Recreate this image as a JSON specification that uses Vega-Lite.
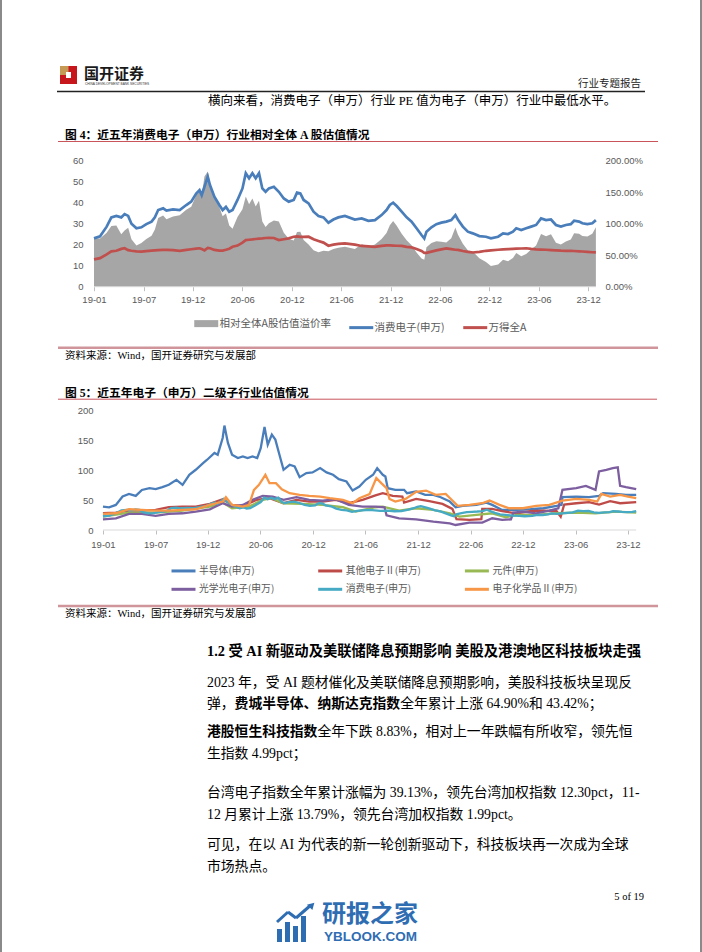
{
"$schema": "https://vega.github.io/schema/vega-lite/v6.json",
"background": "#8a8a8a",
"padding": {"left": 2, "right": 2, "top": 0, "bottom": 0},
"spacing": 0,
"bounds": "flush",
"config": {"view": {"stroke": null, "fill": "#ffffff"}},
"resolve": {"scale": {"x": "independent", "y": "independent", "color": "independent"}, "legend": {"color": "independent"}},
"datasets": {
"pe": [
{"d":"2019-01-02","c":23.0,"a":13.0,"p":76.9},{"d":"2019-01-24","c":24.0,"a":13.6,"p":76.5},{"d":"2019-02-17","c":28.6,"a":15.4,"p":85.7},{"d":"2019-03-06","c":33.0,"a":16.8,"p":96.4},{"d":"2019-03-24","c":33.7,"a":17.1,"p":97.1},{"d":"2019-04-11","c":33.0,"a":18.0,"p":83.3},{"d":"2019-04-23","c":34.6,"a":18.3,"p":89.1},{"d":"2019-05-06","c":33.7,"a":17.4,"p":93.7},{"d":"2019-05-18","c":30.0,"a":17.1,"p":75.4},{"d":"2019-06-05","c":27.8,"a":16.8,"p":65.5},{"d":"2019-06-23","c":28.3,"a":16.7,"p":69.5},{"d":"2019-07-11","c":29.8,"a":16.95,"p":75.8},{"d":"2019-07-30","c":31.0,"a":17.15,"p":80.8},{"d":"2019-08-11","c":33.0,"a":17.3,"p":90.8},{"d":"2019-08-23","c":36.5,"a":17.45,"p":109.2},{"d":"2019-09-10","c":37.3,"a":17.5,"p":113.1},{"d":"2019-09-22","c":36.2,"a":17.5,"p":106.9},{"d":"2019-10-16","c":36.8,"a":17.4,"p":111.5},{"d":"2019-11-09","c":36.5,"a":17.1,"p":113.5},{"d":"2019-12-03","c":38.9,"a":17.5,"p":122.3},{"d":"2019-12-21","c":40.5,"a":17.85,"p":126.9},{"d":"2020-01-08","c":44.4,"a":18.1,"p":145.3},{"d":"2020-01-20","c":46.0,"a":18.3,"p":151.4},{"d":"2020-01-28","c":43.6,"a":17.9,"p":143.6},{"d":"2020-02-07","c":47.6,"a":17.3,"p":175.0},{"d":"2020-02-19","c":52.4,"a":18.5,"p":183.0},{"d":"2020-02-27","c":48.4,"a":18.3,"p":164.5},{"d":"2020-03-14","c":42.9,"a":17.5,"p":145.0},{"d":"2020-04-01","c":38.9,"a":17.2,"p":126.0},{"d":"2020-04-13","c":36.5,"a":17.2,"p":112.0},{"d":"2020-04-25","c":38.0,"a":17.6,"p":116.0},{"d":"2020-05-07","c":35.7,"a":18.1,"p":97.2},{"d":"2020-05-19","c":36.5,"a":19.0,"p":92.1},{"d":"2020-06-06","c":41.3,"a":19.6,"p":110.7},{"d":"2020-06-24","c":46.8,"a":21.0,"p":122.9},{"d":"2020-07-06","c":54.0,"a":22.2,"p":143.2},{"d":"2020-07-18","c":51.6,"a":22.35,"p":130.9},{"d":"2020-07-30","c":54.0,"a":22.5,"p":140.0},{"d":"2020-08-11","c":51.6,"a":22.7,"p":127.3},{"d":"2020-08-23","c":54.0,"a":22.85,"p":136.3},{"d":"2020-09-04","c":46.8,"a":23.0,"p":103.5},{"d":"2020-09-16","c":45.2,"a":23.2,"p":94.8},{"d":"2020-09-28","c":46.8,"a":23.3,"p":100.9},{"d":"2020-10-16","c":47.6,"a":23.2,"p":105.2},{"d":"2020-11-03","c":45.2,"a":22.2,"p":103.6},{"d":"2020-11-21","c":42.0,"a":22.6,"p":85.8},{"d":"2020-12-09","c":40.5,"a":23.0,"p":76.1},{"d":"2020-12-27","c":41.3,"a":23.8,"p":73.5},{"d":"2021-01-08","c":44.8,"a":24.0,"p":86.7},{"d":"2021-01-20","c":44.4,"a":23.7,"p":87.3},{"d":"2021-02-01","c":41.3,"a":23.7,"p":74.3},{"d":"2021-02-19","c":39.7,"a":23.8,"p":66.8},{"d":"2021-03-09","c":35.7,"a":22.6,"p":58.0},{"d":"2021-03-27","c":33.7,"a":21.8,"p":54.6},{"d":"2021-04-14","c":33.0,"a":21.0,"p":57.1},{"d":"2021-05-02","c":30.5,"a":19.5,"p":56.4},{"d":"2021-05-20","c":32.0,"a":20.0,"p":60.0},{"d":"2021-06-07","c":33.0,"a":20.4,"p":61.8},{"d":"2021-07-01","c":33.7,"a":20.6,"p":63.6},{"d":"2021-08-06","c":32.0,"a":20.0,"p":60.0},{"d":"2021-08-31","c":32.5,"a":19.4,"p":67.5},{"d":"2021-09-24","c":31.4,"a":19.2,"p":63.5},{"d":"2021-10-18","c":31.7,"a":19.0,"p":66.8},{"d":"2021-11-11","c":34.1,"a":19.4,"p":75.8},{"d":"2021-11-29","c":36.5,"a":19.7,"p":85.3},{"d":"2021-12-11","c":38.9,"a":19.7,"p":97.5},{"d":"2021-12-23","c":40.0,"a":19.6,"p":104.1},{"d":"2022-01-05","c":38.4,"a":19.5,"p":96.9},{"d":"2022-01-23","c":35.7,"a":19.4,"p":84.0},{"d":"2022-02-10","c":33.0,"a":19.0,"p":73.7},{"d":"2022-02-28","c":31.0,"a":18.7,"p":65.8},{"d":"2022-03-18","c":27.8,"a":18.0,"p":54.4},{"d":"2022-04-05","c":24.6,"a":17.0,"p":44.7},{"d":"2022-04-15","c":23.0,"a":16.1,"p":42.9},{"d":"2022-04-23","c":26.2,"a":16.1,"p":62.7},{"d":"2022-05-11","c":28.3,"a":16.7,"p":69.5},{"d":"2022-05-29","c":29.8,"a":17.3,"p":72.3},{"d":"2022-06-16","c":30.5,"a":17.8,"p":71.3},{"d":"2022-07-04","c":31.0,"a":18.2,"p":70.3},{"d":"2022-07-22","c":31.7,"a":17.9,"p":77.1},{"d":"2022-08-06","c":34.1,"a":17.6,"p":93.8},{"d":"2022-08-15","c":32.0,"a":17.5,"p":82.9},{"d":"2022-09-02","c":28.6,"a":17.0,"p":68.2},{"d":"2022-09-20","c":26.2,"a":16.6,"p":57.8},{"d":"2022-10-08","c":25.4,"a":16.3,"p":55.8},{"d":"2022-11-01","c":24.1,"a":16.6,"p":45.2},{"d":"2022-11-25","c":23.8,"a":17.1,"p":39.2},{"d":"2022-12-13","c":23.0,"a":17.3,"p":32.9},{"d":"2023-01-08","c":23.8,"a":17.6,"p":35.2},{"d":"2023-01-26","c":25.4,"a":17.8,"p":42.7},{"d":"2023-02-13","c":25.1,"a":17.9,"p":40.2},{"d":"2023-03-03","c":26.2,"a":18.0,"p":45.6},{"d":"2023-03-15","c":27.8,"a":18.1,"p":53.6},{"d":"2023-04-02","c":27.0,"a":18.2,"p":48.4},{"d":"2023-04-20","c":27.8,"a":18.3,"p":51.9},{"d":"2023-05-08","c":28.6,"a":18.0,"p":58.9},{"d":"2023-05-26","c":29.4,"a":17.8,"p":65.2},{"d":"2023-06-13","c":32.5,"a":17.7,"p":83.6},{"d":"2023-07-01","c":31.7,"a":17.6,"p":80.1},{"d":"2023-07-19","c":32.0,"a":17.45,"p":83.4},{"d":"2023-08-06","c":29.4,"a":17.3,"p":69.9},{"d":"2023-08-24","c":28.6,"a":17.15,"p":66.8},{"d":"2023-09-11","c":29.4,"a":17.1,"p":71.9},{"d":"2023-09-29","c":29.8,"a":17.05,"p":74.8},{"d":"2023-10-11","c":31.4,"a":17.0,"p":84.7},{"d":"2023-10-29","c":31.0,"a":16.85,"p":84.0},{"d":"2023-11-10","c":30.2,"a":16.75,"p":80.3},{"d":"2023-11-28","c":29.8,"a":16.6,"p":79.5},{"d":"2023-12-16","c":30.2,"a":16.4,"p":84.1},{"d":"2023-12-29","c":31.7,"a":16.3,"p":94.5}
],
"s1": [
{"d":"2019-01-02","v":39.2},{"d":"2019-01-23","v":38},{"d":"2019-02-15","v":42},{"d":"2019-03-10","v":56},{"d":"2019-04-01","v":60.5},{"d":"2019-04-24","v":57},{"d":"2019-05-15","v":67},{"d":"2019-06-10","v":70},{"d":"2019-07-01","v":68.3},{"d":"2019-07-24","v":71.7},{"d":"2019-08-15","v":75.6},{"d":"2019-09-10","v":84},{"d":"2019-10-01","v":75.6},{"d":"2019-10-24","v":92.4},{"d":"2019-11-15","v":100.8},{"d":"2019-12-10","v":112},{"d":"2019-12-24","v":117.6},{"d":"2020-01-18","v":128.9},{"d":"2020-01-29","v":126},{"d":"2020-02-15","v":154},{"d":"2020-02-21","v":174.8},{"d":"2020-03-04","v":145.7},{"d":"2020-03-18","v":126},{"d":"2020-04-07","v":120.4},{"d":"2020-04-24","v":123.2},{"d":"2020-05-10","v":120.4},{"d":"2020-05-27","v":123.2},{"d":"2020-06-12","v":120.4},{"d":"2020-06-24","v":137},{"d":"2020-07-07","v":172.5},{"d":"2020-07-18","v":142.9},{"d":"2020-08-01","v":159.7},{"d":"2020-08-13","v":151.3},{"d":"2020-08-27","v":126},{"d":"2020-09-10","v":100.8},{"d":"2020-10-01","v":109.2},{"d":"2020-10-18","v":106.4},{"d":"2020-11-04","v":88.5},{"d":"2020-11-27","v":95.2},{"d":"2020-12-18","v":96.4},{"d":"2021-01-13","v":103.6},{"d":"2021-02-04","v":96.4},{"d":"2021-02-26","v":92.4},{"d":"2021-03-18","v":85.2},{"d":"2021-04-13","v":81.2},{"d":"2021-05-04","v":66},{"d":"2021-05-27","v":72.8},{"d":"2021-06-18","v":84},{"d":"2021-07-13","v":92.4},{"d":"2021-07-27","v":103.6},{"d":"2021-08-15","v":92.4},{"d":"2021-08-24","v":89.6},{"d":"2021-09-01","v":70},{"d":"2021-09-27","v":67.2},{"d":"2021-10-27","v":67.2},{"d":"2021-11-06","v":61.6},{"d":"2021-12-07","v":64.4},{"d":"2022-01-07","v":58.8},{"d":"2022-02-04","v":58.8},{"d":"2022-03-01","v":54.9},{"d":"2022-04-01","v":47.6},{"d":"2022-04-21","v":38.1},{"d":"2022-05-15","v":40.3},{"d":"2022-07-01","v":42},{"d":"2022-08-04","v":45.9},{"d":"2022-08-24","v":42},{"d":"2022-09-27","v":33.6},{"d":"2022-11-15","v":33.6},{"d":"2023-01-02","v":34.7},{"d":"2023-02-15","v":36.4},{"d":"2023-04-01","v":40.3},{"d":"2023-04-18","v":42},{"d":"2023-04-21","v":54.9},{"d":"2023-06-07","v":56},{"d":"2023-07-21","v":54.9},{"d":"2023-08-24","v":57.1},{"d":"2023-09-07","v":61.6},{"d":"2023-10-21","v":60.5},{"d":"2023-11-24","v":58.8},{"d":"2023-12-29","v":58.8}
],
"s2": [
{"d":"2019-01-02","v":28},{"d":"2019-02-15","v":29.1},{"d":"2019-04-01","v":32.5},{"d":"2019-05-15","v":32.5},{"d":"2019-07-01","v":33.6},{"d":"2019-08-15","v":38.1},{"d":"2019-10-01","v":39.2},{"d":"2019-11-15","v":39.2},{"d":"2020-01-02","v":43.7},{"d":"2020-02-15","v":51.5},{"d":"2020-03-18","v":42},{"d":"2020-04-24","v":40.3},{"d":"2020-06-10","v":50.4},{"d":"2020-07-24","v":53.2},{"d":"2020-09-10","v":44.8},{"d":"2020-10-24","v":50.4},{"d":"2020-12-07","v":47.6},{"d":"2021-01-22","v":47.6},{"d":"2021-03-07","v":50.4},{"d":"2021-04-21","v":44.8},{"d":"2021-06-07","v":50.4},{"d":"2021-07-21","v":58},{"d":"2021-08-15","v":61.6},{"d":"2021-09-18","v":57.1},{"d":"2021-10-21","v":56},{"d":"2021-10-27","v":46},{"d":"2021-12-07","v":52.1},{"d":"2022-01-21","v":48.2},{"d":"2022-03-07","v":43.7},{"d":"2022-04-10","v":35.3},{"d":"2022-04-24","v":18},{"d":"2022-06-07","v":16.8},{"d":"2022-07-18","v":18},{"d":"2022-07-21","v":35.3},{"d":"2022-08-24","v":35.3},{"d":"2022-09-27","v":31.4},{"d":"2022-11-15","v":28},{"d":"2023-01-02","v":31.4},{"d":"2023-02-15","v":32.5},{"d":"2023-04-01","v":31.4},{"d":"2023-04-15","v":22.4},{"d":"2023-04-27","v":42.6},{"d":"2023-06-07","v":44.8},{"d":"2023-07-21","v":46.5},{"d":"2023-08-24","v":42.6},{"d":"2023-10-01","v":48.2},{"d":"2023-11-04","v":44.8},{"d":"2023-12-29","v":46.5}
],
"s3": [
{"d":"2019-01-02","v":22.4},{"d":"2019-04-01","v":29.1},{"d":"2019-07-01","v":29.1},{"d":"2019-10-01","v":32.5},{"d":"2020-01-02","v":39.2},{"d":"2020-02-15","v":45.9},{"d":"2020-03-18","v":36.4},{"d":"2020-05-15","v":39.2},{"d":"2020-07-01","v":50.4},{"d":"2020-08-01","v":53.2},{"d":"2020-09-10","v":44.8},{"d":"2020-11-15","v":43.7},{"d":"2021-01-22","v":42},{"d":"2021-04-01","v":38.1},{"d":"2021-05-15","v":30.8},{"d":"2021-07-21","v":38.1},{"d":"2021-08-15","v":39.2},{"d":"2021-10-10","v":32.5},{"d":"2021-12-07","v":36.4},{"d":"2022-02-04","v":33.6},{"d":"2022-04-01","v":28},{"d":"2022-05-04","v":22.4},{"d":"2022-07-01","v":25.2},{"d":"2022-08-24","v":28},{"d":"2022-10-10","v":21.3},{"d":"2022-11-15","v":25.2},{"d":"2023-01-21","v":25.2},{"d":"2023-04-01","v":28},{"d":"2023-06-07","v":29.1},{"d":"2023-08-12","v":28},{"d":"2023-10-21","v":30.8},{"d":"2023-12-29","v":29.1}
],
"s4": [
{"d":"2019-01-02","v":17.9},{"d":"2019-02-15","v":19.6},{"d":"2019-04-01","v":26.9},{"d":"2019-05-15","v":26.9},{"d":"2019-07-01","v":23.5},{"d":"2019-08-15","v":26.9},{"d":"2019-10-01","v":28},{"d":"2019-11-15","v":30.8},{"d":"2020-01-02","v":34.7},{"d":"2020-02-15","v":44.8},{"d":"2020-03-18","v":39.2},{"d":"2020-04-24","v":42},{"d":"2020-05-27","v":50.4},{"d":"2020-07-01","v":57.1},{"d":"2020-08-04","v":56},{"d":"2020-09-10","v":50.4},{"d":"2020-10-24","v":54.9},{"d":"2020-12-07","v":50.4},{"d":"2021-01-22","v":49.3},{"d":"2021-03-07","v":51.5},{"d":"2021-04-21","v":42},{"d":"2021-06-07","v":39.2},{"d":"2021-07-21","v":39.2},{"d":"2021-08-21","v":38},{"d":"2021-08-28","v":24.5},{"d":"2021-10-10","v":19.6},{"d":"2021-12-07","v":17.9},{"d":"2022-02-04","v":14},{"d":"2022-04-01","v":11.2},{"d":"2022-04-21","v":8.4},{"d":"2022-06-07","v":12.3},{"d":"2022-07-21","v":12.3},{"d":"2022-08-24","v":19.6},{"d":"2022-09-27","v":16.8},{"d":"2022-10-27","v":17.9},{"d":"2022-11-04","v":29.1},{"d":"2022-12-07","v":30.8},{"d":"2023-01-21","v":28},{"d":"2023-03-07","v":32.5},{"d":"2023-04-07","v":36.4},{"d":"2023-04-21","v":67.2},{"d":"2023-06-07","v":70},{"d":"2023-07-10","v":73.9},{"d":"2023-08-12","v":67.2},{"d":"2023-08-24","v":98},{"d":"2023-09-18","v":100.8},{"d":"2023-10-10","v":103.6},{"d":"2023-10-27","v":105},{"d":"2023-11-04","v":73.9},{"d":"2023-11-24","v":71.7},{"d":"2023-12-29","v":68.3}
],
"s6": [
{"d":"2019-01-02","v":26.9},{"d":"2019-02-15","v":28},{"d":"2019-04-01","v":34.7},{"d":"2019-05-15","v":33.6},{"d":"2019-07-01","v":32.5},{"d":"2019-08-15","v":32.5},{"d":"2019-10-01","v":33.6},{"d":"2019-11-15","v":34.7},{"d":"2020-01-02","v":42},{"d":"2020-02-15","v":47.6},{"d":"2020-02-26","v":54.9},{"d":"2020-03-18","v":42},{"d":"2020-04-24","v":39.2},{"d":"2020-05-15","v":42},{"d":"2020-06-01","v":67.2},{"d":"2020-06-18","v":75.6},{"d":"2020-07-10","v":92.4},{"d":"2020-07-24","v":78.4},{"d":"2020-08-15","v":78.4},{"d":"2020-09-04","v":68.3},{"d":"2020-10-01","v":61.6},{"d":"2020-11-04","v":58.8},{"d":"2020-12-07","v":57.1},{"d":"2021-01-13","v":56},{"d":"2021-02-15","v":53.2},{"d":"2021-04-01","v":50.4},{"d":"2021-05-04","v":44.8},{"d":"2021-05-27","v":53.2},{"d":"2021-07-01","v":60},{"d":"2021-07-24","v":86.8},{"d":"2021-08-10","v":78.4},{"d":"2021-08-28","v":70},{"d":"2021-09-07","v":52},{"d":"2021-09-27","v":47.6},{"d":"2021-11-01","v":52.1},{"d":"2021-12-07","v":64},{"d":"2022-01-10","v":66},{"d":"2022-02-12","v":58.8},{"d":"2022-03-18","v":60.5},{"d":"2022-04-10","v":49.3},{"d":"2022-04-28","v":40.3},{"d":"2022-06-07","v":42},{"d":"2022-07-21","v":44.8},{"d":"2022-08-15","v":49.3},{"d":"2022-09-18","v":42},{"d":"2022-10-21","v":36.4},{"d":"2022-12-07","v":36.4},{"d":"2023-01-21","v":40.3},{"d":"2023-03-07","v":42},{"d":"2023-04-21","v":49.3},{"d":"2023-06-07","v":52.1},{"d":"2023-07-21","v":50.4},{"d":"2023-08-18","v":47.6},{"d":"2023-09-01","v":60.5},{"d":"2023-10-01","v":56},{"d":"2023-11-04","v":58.8},{"d":"2023-12-01","v":56},{"d":"2023-12-29","v":53.2}
]
},
"vconcat": [
{
"width": 698, "height": 150,
"data": {"values": [{"k": 1}]},
"layer": [
{"mark": {"type": "rect", "color": "#c8161d"}, "encoding": {"x": {"datum": 60, "type": "quantitative", "scale": {"domain": [2, 700], "nice": false}, "axis": null}, "x2": {"datum": 77}, "y": {"datum": 66, "type": "quantitative", "scale": {"domain": [0, 150], "reverse": true, "nice": false}, "axis": null}, "y2": {"datum": 84}}},
{"mark": {"type": "rect", "color": "#c49a55"}, "encoding": {"x": {"datum": 60, "type": "quantitative", "scale": {"domain": [2, 700], "nice": false}, "axis": null}, "x2": {"datum": 68.5}, "y": {"datum": 66, "type": "quantitative", "scale": {"domain": [0, 150], "reverse": true, "nice": false}, "axis": null}, "y2": {"datum": 75}}},
{"mark": {"type": "rect", "color": "#ffffff"}, "encoding": {"x": {"datum": 66, "type": "quantitative", "scale": {"domain": [2, 700], "nice": false}, "axis": null}, "x2": {"datum": 71}, "y": {"datum": 72, "type": "quantitative", "scale": {"domain": [0, 150], "reverse": true, "nice": false}, "axis": null}, "y2": {"datum": 78}}},
{"data": {"values": [{"t": "国开证券"}]}, "mark": {"type": "text", "align": "left", "baseline": "middle", "font": "Noto Sans CJK SC", "fontWeight": "bold", "fontSize": 15, "color": "#1a1a1a"}, "encoding": {"x": {"datum": 84, "type": "quantitative", "scale": {"domain": [2, 700], "nice": false}, "axis": null}, "y": {"datum": 74, "type": "quantitative", "scale": {"domain": [0, 150], "reverse": true, "nice": false}, "axis": null}, "text": {"field": "t"}}},
{"data": {"values": [{"t": "CHINA DEVELOPMENT BANK SECURITIES"}]}, "mark": {"type": "text", "align": "left", "baseline": "middle", "font": "Liberation Sans", "fontSize": 3.2, "color": "#333333"}, "encoding": {"x": {"datum": 85, "type": "quantitative", "scale": {"domain": [2, 700], "nice": false}, "axis": null}, "y": {"datum": 84, "type": "quantitative", "scale": {"domain": [0, 150], "reverse": true, "nice": false}, "axis": null}, "text": {"field": "t"}}},
{"data": {"values": [{"t": "行业专题报告"}]}, "mark": {"type": "text", "align": "right", "baseline": "middle", "font": "Liberation Serif, Noto Sans CJK SC", "fontSize": 10.5, "color": "#222222"}, "encoding": {"x": {"datum": 641, "type": "quantitative", "scale": {"domain": [2, 700], "nice": false}, "axis": null}, "y": {"datum": 83.5, "type": "quantitative", "scale": {"domain": [0, 150], "reverse": true, "nice": false}, "axis": null}, "text": {"field": "t"}}},
{"mark": {"type": "rule", "color": "#222222", "strokeWidth": 1.3}, "encoding": {"x": {"datum": 57, "type": "quantitative", "scale": {"domain": [2, 700], "nice": false}, "axis": null}, "x2": {"datum": 645}, "y": {"datum": 91.5, "type": "quantitative", "scale": {"domain": [0, 150], "reverse": true, "nice": false}, "axis": null}}},
{"data": {"values": [{"t": "横向来看，消费电子（申万）行业 PE 值为电子（申万）行业中最低水平。"}]}, "mark": {"type": "text", "align": "left", "baseline": "middle", "font": "Liberation Serif, Noto Sans CJK SC", "fontSize": 12.5, "color": "#000000"}, "encoding": {"x": {"datum": 208, "type": "quantitative", "scale": {"domain": [2, 700], "nice": false}, "axis": null}, "y": {"datum": 101, "type": "quantitative", "scale": {"domain": [0, 150], "reverse": true, "nice": false}, "axis": null}, "text": {"field": "t"}}},
{"data": {"values": [{"t": "图 4：近五年消费电子（申万）行业相对全体 A 股估值情况"}]}, "mark": {"type": "text", "align": "left", "baseline": "middle", "font": "Liberation Serif, Noto Sans CJK SC", "fontWeight": "bold", "fontSize": 11.75, "color": "#000000"}, "encoding": {"x": {"datum": 65, "type": "quantitative", "scale": {"domain": [2, 700], "nice": false}, "axis": null}, "y": {"datum": 134.5, "type": "quantitative", "scale": {"domain": [0, 150], "reverse": true, "nice": false}, "axis": null}, "text": {"field": "t"}}},
{"mark": {"type": "rule", "color": "#c9545a", "strokeWidth": 1}, "encoding": {"x": {"datum": 58, "type": "quantitative", "scale": {"domain": [2, 700], "nice": false}, "axis": null}, "x2": {"datum": 658}, "y": {"datum": 141.5, "type": "quantitative", "scale": {"domain": [0, 150], "reverse": true, "nice": false}, "axis": null}}}
]
},
{
"width": 698, "height": 186,
"layer": [
{
"data": {"name": "pe"},
"mark": {"type": "area"},
"encoding": {
"x": {"field": "d", "type": "temporal", "title": null, "scale": {"type": "utc", "nice": false, "domain": [{"year": 2018, "month": 2, "date": 2, "utc": true}, {"year": 2025, "month": 1, "date": 10, "utc": true}]},
"axis": {"values": [{"year":2019,"month":1,"date":2,"utc":true},{"year":2019,"month":7,"date":1,"utc":true},{"year":2019,"month":12,"date":26,"utc":true},{"year":2020,"month":6,"date":23,"utc":true},{"year":2020,"month":12,"date":20,"utc":true},{"year":2021,"month":6,"date":17,"utc":true},{"year":2021,"month":12,"date":14,"utc":true},{"year":2022,"month":6,"date":11,"utc":true},{"year":2022,"month":12,"date":7,"utc":true},{"year":2023,"month":6,"date":5,"utc":true},{"year":2023,"month":12,"date":1,"utc":true}], "labelExpr": "utcFormat(datum.value, '%y-%m')", "offset": -49.3, "domain": false, "grid": false, "ticks": true, "tickSize": 4, "tickColor": "#bfbfbf", "labelPadding": 3.5, "labelFont": "Liberation Sans", "labelFontSize": 9.5, "labelColor": "#595959", "labelOverlap": false, "labelFlush": false, "title": null}},
"y": {"field": "p", "type": "quantitative", "title": null, "scale": {"domain": [-78.25, 216.98], "nice": false, "zero": false}, "axis": {"orient": "right", "offset": -97, "values": [0, 50, 100, 150, 200], "labelExpr": "format(datum.value, '.2f') + '%'", "domain": false, "ticks": false, "grid": false, "labelPadding": 2, "labelFont": "Liberation Sans", "labelFontSize": 9.5, "labelColor": "#595959", "labelOverlap": false, "title": null}},
"color": {"datum": "相对全体A股估值溢价率", "scale": {"domain": ["相对全体A股估值溢价率", "消费电子(申万)", "万得全A"], "range": ["#a6a6a6", "#4a7ebb", "#c0504d"]},
"legend": {"title": null, "orient": "none", "legendX": 193, "legendY": 168, "direction": "horizontal", "symbolType": "M-1,0H3", "symbolSize": 144, "symbolStrokeWidth": 3, "labelFont": "Noto Sans CJK SC", "labelFontSize": 10.5, "labelColor": "#595959", "labelOffset": 14, "columnPadding": 12, "padding": 0,
"encode": {"symbols": {"update": {"stroke": {"signal": "datum.value === '相对全体A股估值溢价率' ? '#a6a6a6' : (datum.value === '消费电子(申万)' ? '#4a7ebb' : '#c0504d')"}, "strokeWidth": {"signal": "datum.value === '相对全体A股估值溢价率' ? 7 : 3"}, "fill": {"value": "transparent"}, "opacity": {"value": 1}}}}}}
}
},
{
"layer": [
{"data": {"values": [{"k": 1}]}, "mark": {"type": "rule", "color": "#d9d9d9", "strokeWidth": 1}, "encoding": {"x": {"datum": {"year": 2019, "month": 1, "date": 2, "utc": true}, "type": "temporal", "title": null}, "x2": {"datum": {"year": 2023, "month": 12, "date": 29, "utc": true}}, "y": {"datum": 0, "type": "quantitative", "title": null, "scale": {"domain": [-23.476, 65.095], "nice": false, "zero": false}, "axis": {"orient": "left", "offset": -83, "values": [0, 10, 20, 30, 40, 50, 60], "tickCount": 7, "domain": false, "ticks": false, "grid": false, "labelPadding": 2, "labelFont": "Liberation Sans", "labelFontSize": 9.5, "labelColor": "#595959", "labelOverlap": false, "title": null}}}},
{"data": {"name": "pe"}, "mark": {"type": "line", "strokeWidth": 2.7}, "encoding": {"x": {"field": "d", "type": "temporal", "title": null}, "y": {"field": "c", "type": "quantitative", "title": null, "scale": {"domain": [-23.476, 65.095], "nice": false, "zero": false}, "axis": {"orient": "left", "offset": -83, "values": [0, 10, 20, 30, 40, 50, 60], "tickCount": 7, "domain": false, "ticks": false, "grid": false, "labelPadding": 2, "labelFont": "Liberation Sans", "labelFontSize": 9.5, "labelColor": "#595959", "labelOverlap": false, "title": null}}, "color": {"datum": "消费电子(申万)"}}},
{"data": {"name": "pe"}, "mark": {"type": "line", "strokeWidth": 2.7}, "encoding": {"x": {"field": "d", "type": "temporal", "title": null}, "y": {"field": "a", "type": "quantitative", "title": null, "scale": {"domain": [-23.476, 65.095], "nice": false, "zero": false}, "axis": {"orient": "left", "offset": -83, "values": [0, 10, 20, 30, 40, 50, 60], "tickCount": 7, "domain": false, "ticks": false, "grid": false, "labelPadding": 2, "labelFont": "Liberation Sans", "labelFontSize": 9.5, "labelColor": "#595959", "labelOverlap": false, "title": null}}, "color": {"datum": "万得全A"}}}
]
}
],
"resolve": {"scale": {"y": "independent"}, "axis": {"y": "independent"}}
},
{
"width": 698, "height": 66,
"data": {"values": [{"k": 1}]},
"layer": [
{"mark": {"type": "rule", "color": "#d0959a", "strokeWidth": 2.5}, "encoding": {"x": {"datum": 58, "type": "quantitative", "scale": {"domain": [2, 700], "nice": false}, "axis": null}, "x2": {"datum": 658}, "y": {"datum": 347.7, "type": "quantitative", "scale": {"domain": [336, 402], "reverse": true, "nice": false}, "axis": null}}},
{"data": {"values": [{"t": "资料来源：Wind，国开证券研究与发展部"}]}, "mark": {"type": "text", "align": "left", "baseline": "middle", "font": "Liberation Serif, Noto Sans CJK SC", "fontSize": 10.5, "color": "#000000"}, "encoding": {"x": {"datum": 65, "type": "quantitative", "scale": {"domain": [2, 700], "nice": false}, "axis": null}, "y": {"datum": 355.5, "type": "quantitative", "scale": {"domain": [336, 402], "reverse": true, "nice": false}, "axis": null}, "text": {"field": "t"}}},
{"data": {"values": [{"t": "图 5：近五年电子（申万）二级子行业估值情况"}]}, "mark": {"type": "text", "align": "left", "baseline": "middle", "font": "Liberation Serif, Noto Sans CJK SC", "fontWeight": "bold", "fontSize": 11.75, "color": "#000000"}, "encoding": {"x": {"datum": 65, "type": "quantitative", "scale": {"domain": [2, 700], "nice": false}, "axis": null}, "y": {"datum": 392.5, "type": "quantitative", "scale": {"domain": [336, 402], "reverse": true, "nice": false}, "axis": null}, "text": {"field": "t"}}},
{"mark": {"type": "rule", "color": "#c9545a", "strokeWidth": 1}, "encoding": {"x": {"datum": 58, "type": "quantitative", "scale": {"domain": [2, 700], "nice": false}, "axis": null}, "x2": {"datum": 657}, "y": {"datum": 399.2, "type": "quantitative", "scale": {"domain": [336, 402], "reverse": true, "nice": false}, "axis": null}}}
]
},
{
"width": 698, "height": 198,
"layer": [
{"data": {"values": [{"k": 1}]}, "mark": {"type": "rule", "color": "#d9d9d9", "strokeWidth": 1},
"encoding": {
"x": {"datum": {"year": 2019, "month": 1, "date": 2, "utc": true}, "type": "temporal", "title": null, "scale": {"type": "utc", "nice": false, "domain": [{"year": 2018, "month": 1, "date": 22, "utc": true}, {"year": 2024, "month": 8, "date": 3, "utc": true}]},
"axis": {"values": [{"year":2019,"month":1,"date":2,"utc":true},{"year":2019,"month":7,"date":1,"utc":true},{"year":2019,"month":12,"date":26,"utc":true},{"year":2020,"month":6,"date":23,"utc":true},{"year":2020,"month":12,"date":20,"utc":true},{"year":2021,"month":6,"date":17,"utc":true},{"year":2021,"month":12,"date":14,"utc":true},{"year":2022,"month":6,"date":11,"utc":true},{"year":2022,"month":12,"date":7,"utc":true},{"year":2023,"month":6,"date":5,"utc":true},{"year":2023,"month":12,"date":1,"utc":true}], "labelExpr": "utcFormat(datum.value, '%y-%m')", "offset": -70, "domain": false, "grid": false, "ticks": true, "tickSize": 4, "tickColor": "#bfbfbf", "labelPadding": 5.5, "labelFont": "Liberation Sans", "labelFontSize": 9.5, "labelColor": "#595959", "labelOverlap": false, "labelFlush": false, "title": null}},
"x2": {"datum": {"year": 2023, "month": 12, "date": 29, "utc": true}},
"y": {"datum": 0, "type": "quantitative", "title": null, "scale": {"domain": [-117.15, 214.23], "nice": false, "zero": false}, "axis": {"orient": "left", "offset": -93, "values": [0, 50, 100, 150, 200], "domain": false, "ticks": false, "grid": false, "labelPadding": 2, "labelFont": "Liberation Sans", "labelFontSize": 9.5, "labelColor": "#595959", "labelOverlap": false, "title": null}}
}},
{"data": {"name": "s1"}, "mark": {"type": "line", "strokeWidth": 2.3}, "encoding": {"x": {"field": "d", "type": "temporal", "title": null}, "y": {"field": "v", "type": "quantitative", "title": null},
"color": {"datum": "半导体(申万)", "scale": {"domain": ["半导体(申万)", "其他电子Ⅱ(申万)", "元件(申万)", "光学光电子(申万)", "消费电子(申万)", "电子化学品Ⅱ(申万)"], "range": ["#4a7ebb", "#be4b48", "#98b954", "#7d5fa0", "#46aac5", "#f79646"]},
"legend": {"title": null, "orient": "none", "legendX": 168, "legendY": 161.2, "direction": "horizontal", "columns": 3, "gridAlign": "all", "columnPadding": 27.7, "rowPadding": 4.6, "symbolType": "M-1,0H3", "symbolSize": 144, "symbolStrokeWidth": 3, "labelFont": "Noto Sans CJK SC", "labelFontSize": 9.8, "labelColor": "#595959", "labelOffset": 14, "padding": 0}}}},
{"data": {"name": "s2"}, "mark": {"type": "line", "strokeWidth": 2.3}, "encoding": {"x": {"field": "d", "type": "temporal", "title": null}, "y": {"field": "v", "type": "quantitative", "title": null}, "color": {"datum": "其他电子Ⅱ(申万)"}}},
{"data": {"name": "s3"}, "mark": {"type": "line", "strokeWidth": 2.3}, "encoding": {"x": {"field": "d", "type": "temporal", "title": null}, "y": {"field": "v", "type": "quantitative", "title": null}, "color": {"datum": "元件(申万)"}}},
{"data": {"name": "s4"}, "mark": {"type": "line", "strokeWidth": 2.3}, "encoding": {"x": {"field": "d", "type": "temporal", "title": null}, "y": {"field": "v", "type": "quantitative", "title": null}, "color": {"datum": "光学光电子(申万)"}}},
{"data": {"name": "pe"}, "mark": {"type": "line", "strokeWidth": 2.3}, "encoding": {"x": {"field": "d", "type": "temporal", "title": null}, "y": {"field": "c", "type": "quantitative", "title": null}, "color": {"datum": "消费电子(申万)"}}},
{"data": {"name": "s6"}, "mark": {"type": "line", "strokeWidth": 2.3}, "encoding": {"x": {"field": "d", "type": "temporal", "title": null}, "y": {"field": "v", "type": "quantitative", "title": null}, "color": {"datum": "电子化学品Ⅱ(申万)"}}}
]
},
{
"width": 698, "height": 352,
"data": {"values": [{"k": 1}]},
"layer": [
{"mark": {"type": "rule", "color": "#d0959a", "strokeWidth": 2.5}, "encoding": {"x": {"datum": 58, "type": "quantitative", "scale": {"domain": [2, 700], "nice": false}, "axis": null}, "x2": {"datum": 658}, "y": {"datum": 606, "type": "quantitative", "scale": {"domain": [600, 952], "reverse": true, "nice": false}, "axis": null}}},
{"data": {"values": [{"t": "资料来源：Wind，国开证券研究与发展部"}]}, "mark": {"type": "text", "align": "left", "baseline": "middle", "font": "Liberation Serif, Noto Sans CJK SC", "fontSize": 10.5, "color": "#000000"}, "encoding": {"x": {"datum": 65, "type": "quantitative", "scale": {"domain": [2, 700], "nice": false}, "axis": null}, "y": {"datum": 613.5, "type": "quantitative", "scale": {"domain": [600, 952], "reverse": true, "nice": false}, "axis": null}, "text": {"field": "t"}}},
{"data": {"values": [{"t": "1.2  受 AI 新驱动及美联储降息预期影响 美股及港澳地区科技板块走强"}]}, "mark": {"type": "text", "align": "left", "baseline": "middle", "font": "Liberation Serif, Noto Sans CJK SC", "fontWeight": "bold", "fontSize": 14.3, "color": "#000000"}, "encoding": {"x": {"datum": 207, "type": "quantitative", "scale": {"domain": [2, 700], "nice": false}, "axis": null}, "y": {"datum": 652.3, "type": "quantitative", "scale": {"domain": [600, 952], "reverse": true, "nice": false}, "axis": null}, "text": {"field": "t"}}},
{"data": {"values": [{"t": "2023 年，受 AI 题材催化及美联储降息预期影响，美股科技板块呈现反"}]}, "mark": {"type": "text", "align": "left", "baseline": "middle", "font": "Liberation Serif, Noto Sans CJK SC", "fontSize": 13.8, "color": "#000000"}, "encoding": {"x": {"datum": 207, "type": "quantitative", "scale": {"domain": [2, 700], "nice": false}, "axis": null}, "y": {"datum": 683.3, "type": "quantitative", "scale": {"domain": [600, 952], "reverse": true, "nice": false}, "axis": null}, "text": {"field": "t"}}},
{"data": {"values": [{"t": "弹，"}]}, "mark": {"type": "text", "align": "left", "baseline": "middle", "font": "Liberation Serif, Noto Sans CJK SC", "fontSize": 13.8, "color": "#000000"}, "encoding": {"x": {"datum": 207, "type": "quantitative", "scale": {"domain": [2, 700], "nice": false}, "axis": null}, "y": {"datum": 704, "type": "quantitative", "scale": {"domain": [600, 952], "reverse": true, "nice": false}, "axis": null}, "text": {"field": "t"}}},
{"data": {"values": [{"t": "费城半导体、纳斯达克指数"}]}, "mark": {"type": "text", "align": "left", "baseline": "middle", "dx": 27.6, "font": "Liberation Serif, Noto Sans CJK SC", "fontWeight": "bold", "fontSize": 13.8, "color": "#000000"}, "encoding": {"x": {"datum": 207, "type": "quantitative", "scale": {"domain": [2, 700], "nice": false}, "axis": null}, "y": {"datum": 704, "type": "quantitative", "scale": {"domain": [600, 952], "reverse": true, "nice": false}, "axis": null}, "text": {"field": "t"}}},
{"data": {"values": [{"t": "全年累计上涨 64.90%和 43.42%；"}]}, "mark": {"type": "text", "align": "left", "baseline": "middle", "dx": 193.2, "font": "Liberation Serif, Noto Sans CJK SC", "fontSize": 13.8, "color": "#000000"}, "encoding": {"x": {"datum": 207, "type": "quantitative", "scale": {"domain": [2, 700], "nice": false}, "axis": null}, "y": {"datum": 704, "type": "quantitative", "scale": {"domain": [600, 952], "reverse": true, "nice": false}, "axis": null}, "text": {"field": "t"}}},
{"data": {"values": [{"t": "港股恒生科技指数"}]}, "mark": {"type": "text", "align": "left", "baseline": "middle", "font": "Liberation Serif, Noto Sans CJK SC", "fontWeight": "bold", "fontSize": 13.8, "color": "#000000"}, "encoding": {"x": {"datum": 207, "type": "quantitative", "scale": {"domain": [2, 700], "nice": false}, "axis": null}, "y": {"datum": 731.7, "type": "quantitative", "scale": {"domain": [600, 952], "reverse": true, "nice": false}, "axis": null}, "text": {"field": "t"}}},
{"data": {"values": [{"t": "全年下跌 8.83%，相对上一年跌幅有所收窄，领先恒"}]}, "mark": {"type": "text", "align": "left", "baseline": "middle", "dx": 110.4, "font": "Liberation Serif, Noto Sans CJK SC", "fontSize": 13.8, "color": "#000000"}, "encoding": {"x": {"datum": 207, "type": "quantitative", "scale": {"domain": [2, 700], "nice": false}, "axis": null}, "y": {"datum": 731.7, "type": "quantitative", "scale": {"domain": [600, 952], "reverse": true, "nice": false}, "axis": null}, "text": {"field": "t"}}},
{"data": {"values": [{"t": "生指数 4.99pct；"}]}, "mark": {"type": "text", "align": "left", "baseline": "middle", "font": "Liberation Serif, Noto Sans CJK SC", "fontSize": 13.8, "color": "#000000"}, "encoding": {"x": {"datum": 207, "type": "quantitative", "scale": {"domain": [2, 700], "nice": false}, "axis": null}, "y": {"datum": 754, "type": "quantitative", "scale": {"domain": [600, 952], "reverse": true, "nice": false}, "axis": null}, "text": {"field": "t"}}},
{"data": {"values": [{"t": "台湾电子指数全年累计涨幅为 39.13%，领先台湾加权指数 12.30pct，11-"}]}, "mark": {"type": "text", "align": "left", "baseline": "middle", "font": "Liberation Serif, Noto Sans CJK SC", "fontSize": 13.8, "color": "#000000"}, "encoding": {"x": {"datum": 207, "type": "quantitative", "scale": {"domain": [2, 700], "nice": false}, "axis": null}, "y": {"datum": 792.5, "type": "quantitative", "scale": {"domain": [600, 952], "reverse": true, "nice": false}, "axis": null}, "text": {"field": "t"}}},
{"data": {"values": [{"t": "12 月累计上涨 13.79%，领先台湾加权指数 1.99pct。"}]}, "mark": {"type": "text", "align": "left", "baseline": "middle", "font": "Liberation Serif, Noto Sans CJK SC", "fontSize": 13.8, "color": "#000000"}, "encoding": {"x": {"datum": 207, "type": "quantitative", "scale": {"domain": [2, 700], "nice": false}, "axis": null}, "y": {"datum": 814.5, "type": "quantitative", "scale": {"domain": [600, 952], "reverse": true, "nice": false}, "axis": null}, "text": {"field": "t"}}},
{"data": {"values": [{"t": "可见，在以 AI 为代表的新一轮创新驱动下，科技板块再一次成为全球"}]}, "mark": {"type": "text", "align": "left", "baseline": "middle", "font": "Liberation Serif, Noto Sans CJK SC", "fontSize": 13.8, "color": "#000000"}, "encoding": {"x": {"datum": 207, "type": "quantitative", "scale": {"domain": [2, 700], "nice": false}, "axis": null}, "y": {"datum": 844.5, "type": "quantitative", "scale": {"domain": [600, 952], "reverse": true, "nice": false}, "axis": null}, "text": {"field": "t"}}},
{"data": {"values": [{"t": "市场热点。"}]}, "mark": {"type": "text", "align": "left", "baseline": "middle", "font": "Liberation Serif, Noto Sans CJK SC", "fontSize": 13.8, "color": "#000000"}, "encoding": {"x": {"datum": 207, "type": "quantitative", "scale": {"domain": [2, 700], "nice": false}, "axis": null}, "y": {"datum": 866.5, "type": "quantitative", "scale": {"domain": [600, 952], "reverse": true, "nice": false}, "axis": null}, "text": {"field": "t"}}},
{"data": {"values": [{"t": "5 of 19"}]}, "mark": {"type": "text", "align": "right", "baseline": "middle", "font": "Liberation Serif", "fontSize": 10.5, "color": "#000000"}, "encoding": {"x": {"datum": 644, "type": "quantitative", "scale": {"domain": [2, 700], "nice": false}, "axis": null}, "y": {"datum": 896.7, "type": "quantitative", "scale": {"domain": [600, 952], "reverse": true, "nice": false}, "axis": null}, "text": {"field": "t"}}},
{"mark": {"type": "rect", "color": "#2f6db3"}, "encoding": {"x": {"datum": 277, "type": "quantitative", "scale": {"domain": [2, 700], "nice": false}, "axis": null}, "x2": {"datum": 282}, "y": {"datum": 929, "type": "quantitative", "scale": {"domain": [600, 952], "reverse": true, "nice": false}, "axis": null}, "y2": {"datum": 942}}},
{"mark": {"type": "rect", "color": "#2f6db3"}, "encoding": {"x": {"datum": 285, "type": "quantitative", "scale": {"domain": [2, 700], "nice": false}, "axis": null}, "x2": {"datum": 290}, "y": {"datum": 922, "type": "quantitative", "scale": {"domain": [600, 952], "reverse": true, "nice": false}, "axis": null}, "y2": {"datum": 942}}},
{"mark": {"type": "rect", "color": "#2f6db3"}, "encoding": {"x": {"datum": 293, "type": "quantitative", "scale": {"domain": [2, 700], "nice": false}, "axis": null}, "x2": {"datum": 298}, "y": {"datum": 926, "type": "quantitative", "scale": {"domain": [600, 952], "reverse": true, "nice": false}, "axis": null}, "y2": {"datum": 942}}},
{"mark": {"type": "rect", "color": "#2f6db3"}, "encoding": {"x": {"datum": 301, "type": "quantitative", "scale": {"domain": [2, 700], "nice": false}, "axis": null}, "x2": {"datum": 306}, "y": {"datum": 916, "type": "quantitative", "scale": {"domain": [600, 952], "reverse": true, "nice": false}, "axis": null}, "y2": {"datum": 942}}},
{"mark": {"type": "rule", "color": "#2f6db3", "strokeWidth": 3}, "encoding": {"x": {"datum": 277, "type": "quantitative", "scale": {"domain": [2, 700], "nice": false}, "axis": null}, "x2": {"datum": 288}, "y": {"datum": 922, "type": "quantitative", "scale": {"domain": [600, 952], "reverse": true, "nice": false}, "axis": null}, "y2": {"datum": 912}}},
{"mark": {"type": "rule", "color": "#2f6db3", "strokeWidth": 3}, "encoding": {"x": {"datum": 288, "type": "quantitative", "scale": {"domain": [2, 700], "nice": false}, "axis": null}, "x2": {"datum": 296}, "y": {"datum": 912, "type": "quantitative", "scale": {"domain": [600, 952], "reverse": true, "nice": false}, "axis": null}, "y2": {"datum": 918}}},
{"mark": {"type": "rule", "color": "#2f6db3", "strokeWidth": 3}, "encoding": {"x": {"datum": 296, "type": "quantitative", "scale": {"domain": [2, 700], "nice": false}, "axis": null}, "x2": {"datum": 311}, "y": {"datum": 918, "type": "quantitative", "scale": {"domain": [600, 952], "reverse": true, "nice": false}, "axis": null}, "y2": {"datum": 905}}},
{"mark": {"type": "point", "shape": "triangle-up", "filled": true, "size": 60, "angle": 45, "color": "#2f6db3", "opacity": 1}, "encoding": {"x": {"datum": 312, "type": "quantitative", "scale": {"domain": [2, 700], "nice": false}, "axis": null}, "y": {"datum": 905, "type": "quantitative", "scale": {"domain": [600, 952], "reverse": true, "nice": false}, "axis": null}}},
{"data": {"values": [{"t": "研报之家"}]}, "mark": {"type": "text", "align": "left", "baseline": "middle", "font": "Noto Sans CJK SC", "fontWeight": "bold", "fontSize": 24, "color": "#2f6db3"}, "encoding": {"x": {"datum": 322, "type": "quantitative", "scale": {"domain": [2, 700], "nice": false}, "axis": null}, "y": {"datum": 914.5, "type": "quantitative", "scale": {"domain": [600, 952], "reverse": true, "nice": false}, "axis": null}, "text": {"field": "t"}}},
{"data": {"values": [{"t": "YBLOOK.COM"}]}, "mark": {"type": "text", "align": "left", "baseline": "middle", "font": "Liberation Sans", "fontWeight": "bold", "fontSize": 13.5, "color": "#2f6db3"}, "encoding": {"x": {"datum": 324, "type": "quantitative", "scale": {"domain": [2, 700], "nice": false}, "axis": null}, "y": {"datum": 937, "type": "quantitative", "scale": {"domain": [600, 952], "reverse": true, "nice": false}, "axis": null}, "text": {"field": "t"}}}
]
}
]
}
